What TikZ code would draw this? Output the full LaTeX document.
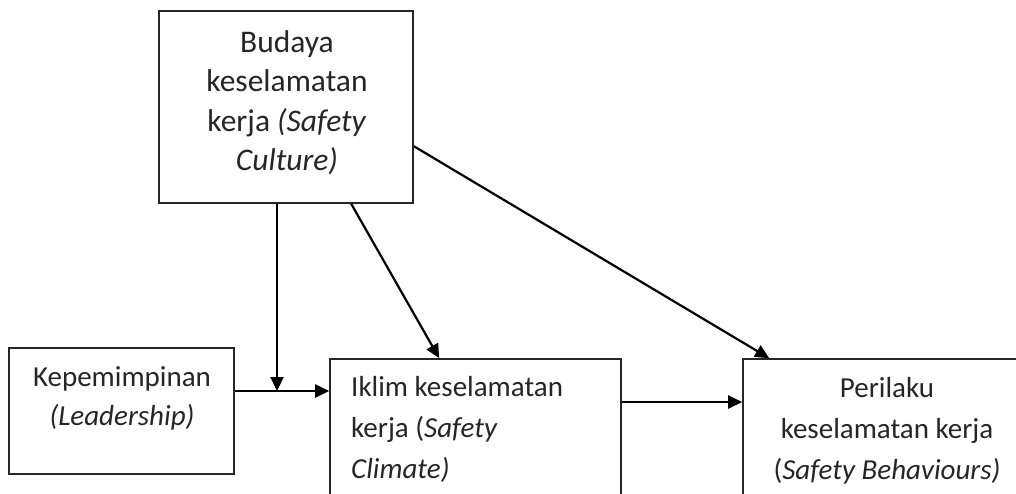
\documentclass[tikz,border=0pt]{standalone}
\usepackage{fontspec}
\setmainfont{Carlito}
\usetikzlibrary{arrows.meta,calc}
\begin{document}
\begin{tikzpicture}[x=1pt,y=-1pt,
  box/.style={draw=black!85, line width=1.6pt, inner sep=0pt},
  lbl/.style={font=\fontsize{29}{41}\selectfont, text=black!85, inner sep=0pt},
  biglbl/.style={lbl, font=\fontsize{31.5}{39.5}\selectfont},
  conn/.style={draw=black, line width=2.2pt, -{Triangle[length=14pt,width=13pt]}}]
\useasboundingbox (0,0) rectangle (1016,493);
\clip (0,0) rectangle (1016,493);
\fill[white] (0,0) rectangle (1016,493);
% boxes
\node[box, minimum width=254pt, minimum height=192pt] (cult) at (286,107) {};
\node[box, minimum width=225pt, minimum height=126pt] (lead) at (121.5,411) {};
\node[box, minimum width=291pt, minimum height=161pt] (clim) at (475.5,439.5) {};
\node[box, minimum width=288pt, minimum height=161pt] (beh) at (887,439.5) {};
% texts
\node[biglbl, align=center, anchor=north] (tcult) at (287,30) {Budaya\\keselamatan\\kerja \textit{(Safety}\\\textit{Culture)}};
\node[lbl, align=center, anchor=north, font=\fontsize{29}{39}\selectfont] (tlead) at (122,366) {Kepemimpinan\\\textit{(Leadership)}};
\node[lbl, align=left, anchor=north west] (tclim) at (351,376) {Iklim keselamatan\\kerja (\textit{Safety}\\\textit{Climate)}};
\node[lbl, align=center, anchor=north] (tbeh) at (887,377) {Perilaku\\keselamatan kerja\\(\textit{Safety Behaviours)}};
% connectors
\coordinate (j) at (277,391);
\coordinate (k) at (0,402);
\draw[conn] (j |- cult.south) -- (j);
\draw[conn] (lead.east |- j) -- (clim.west |- j);
\draw[conn] ($(cult.south west)+(193,0)$) -- ($(clim.north west)+(110,0)$);
\draw[conn] ($(cult.north east)+(0,136)$) -- ($(beh.north west)+(27,0)$);
\draw[conn] (clim.east |- k) -- (beh.west |- k);
\end{tikzpicture}
\end{document}
